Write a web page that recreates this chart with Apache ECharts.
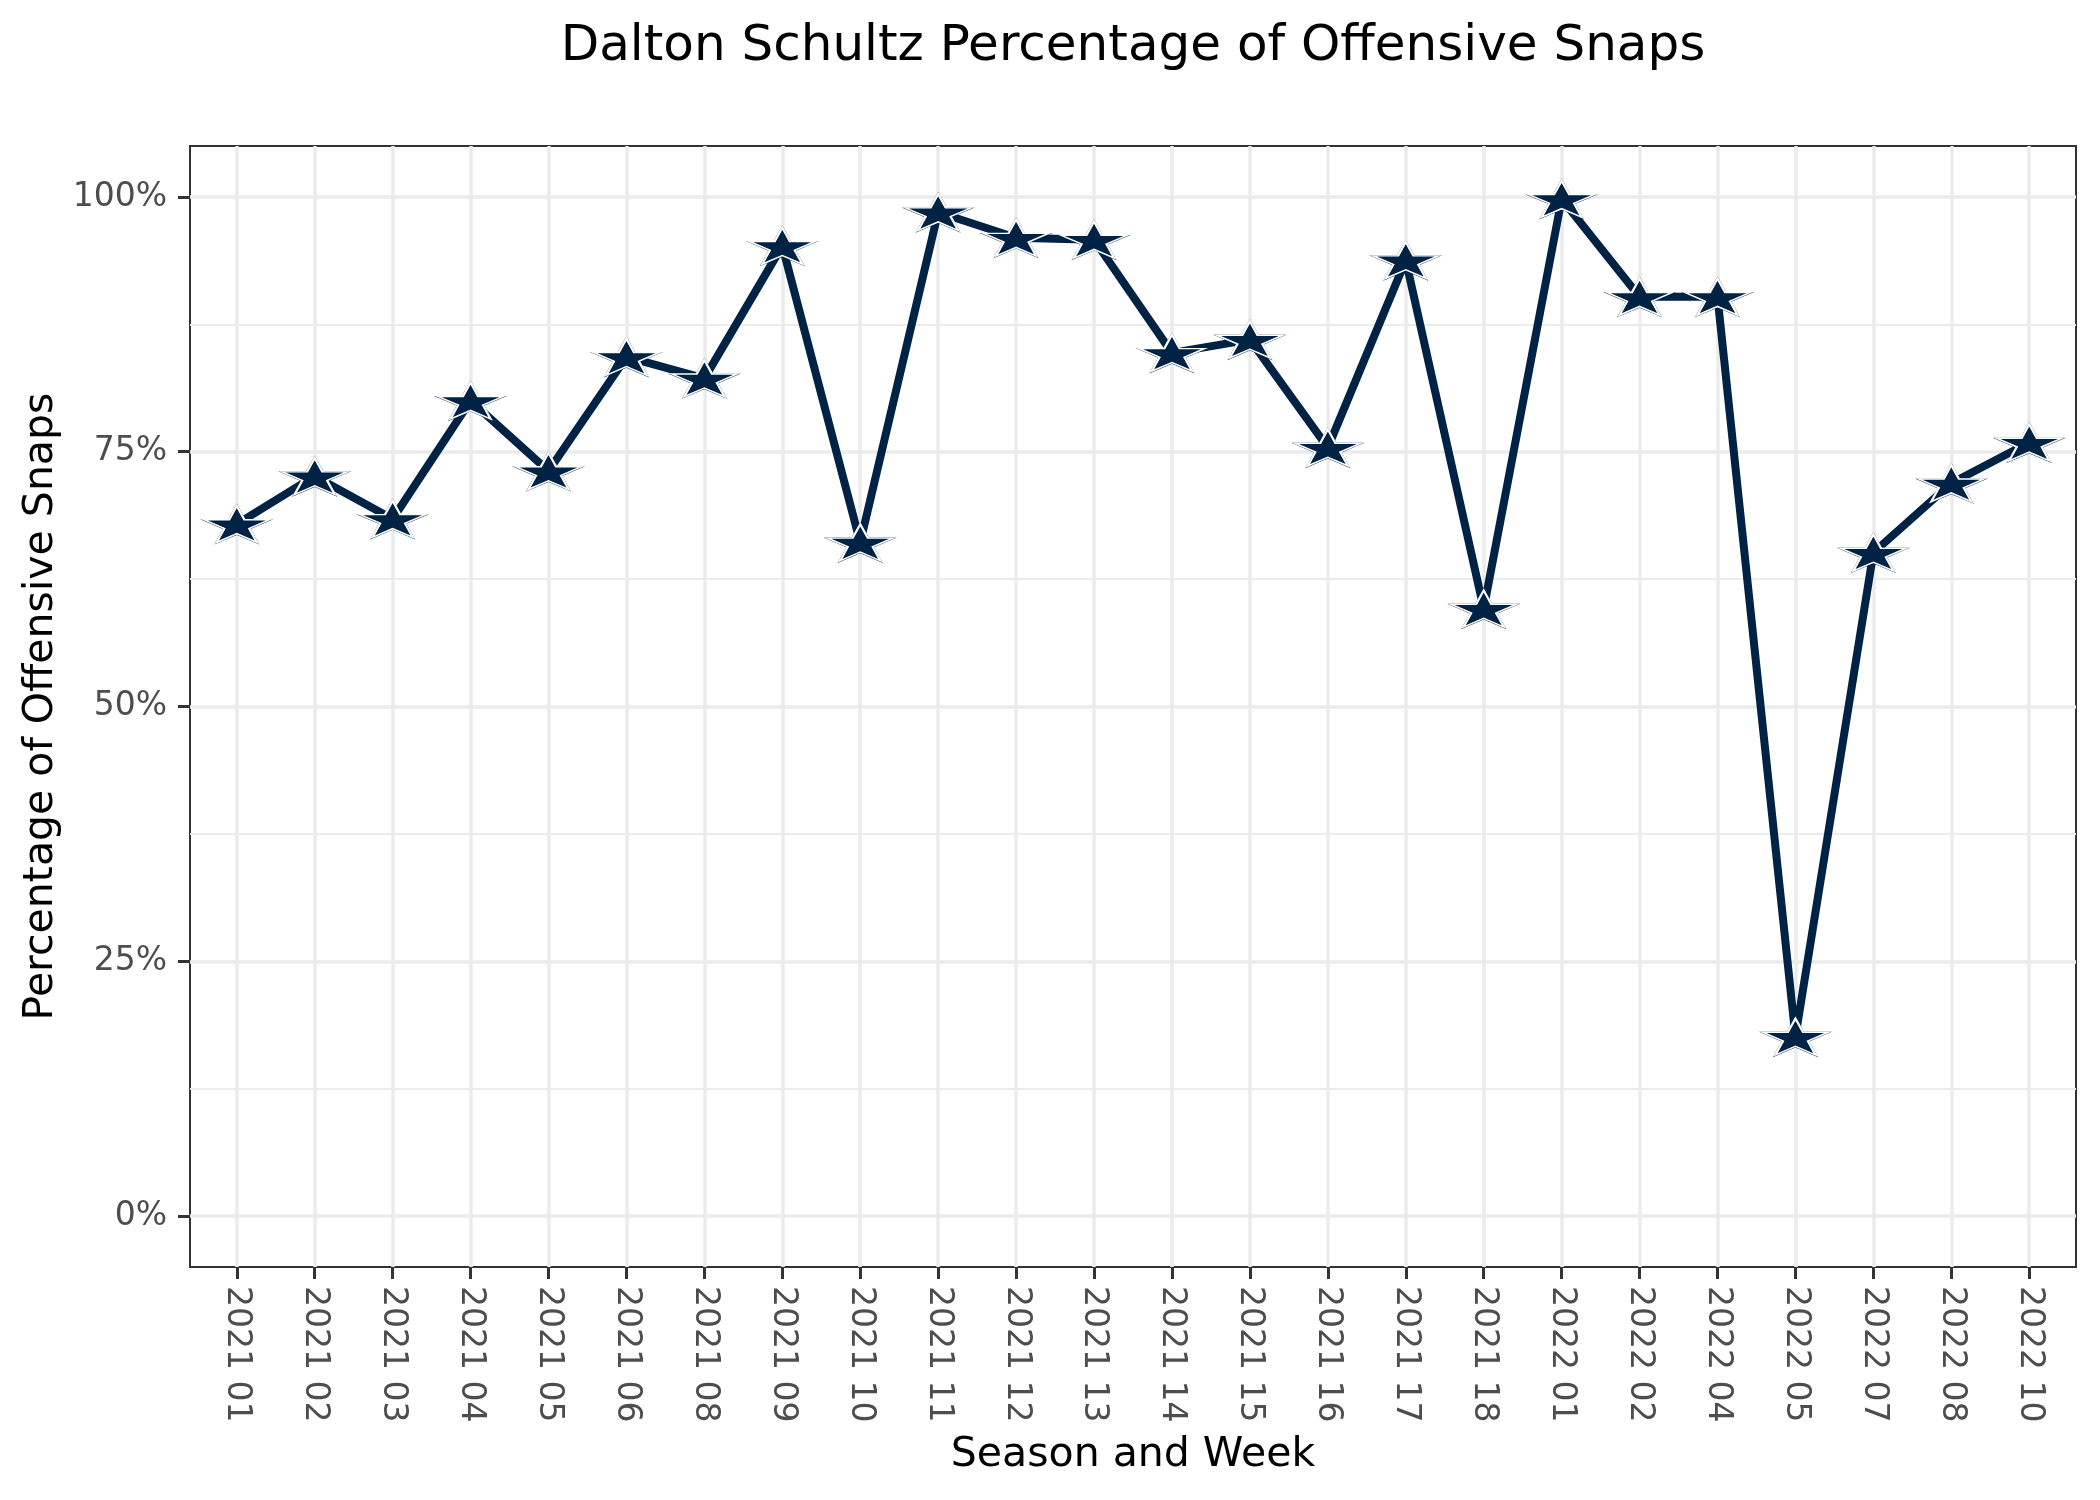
<!DOCTYPE html>
<html>
<head>
<meta charset="utf-8">
<script src="https://cdn.jsdelivr.net/npm/echarts@6/dist/echarts.min.js"></script>
<style>html,body{margin:0;padding:0;background:#fff}#c{width:2100px;height:1500px}</style>
</head>
<body>
<div id="c"></div>
<script>
// ---- data ----
const categories = ['2021 01','2021 02','2021 03','2021 04','2021 05','2021 06','2021 08','2021 09','2021 10','2021 11','2021 12','2021 13','2021 14','2021 15','2021 16','2021 17','2021 18','2022 01','2022 02','2022 04','2022 05','2022 07','2022 08','2022 10'];
const snapPct = [0.679,0.726,0.684,0.800,0.731,0.843,0.822,0.952,0.661,0.985,0.960,0.958,0.847,0.860,0.754,0.938,0.596,0.998,0.902,0.902,0.176,0.651,0.719,0.759];
const yTicks = [0, 0.25, 0.5, 0.75, 1];
const yMinorTicks = [0.125, 0.375, 0.625, 0.875];

// ---- build ----
const xIdx = categories.map((c, i) => i);
const points = snapPct.map((v, i) => [i, v]);

function starPath() {
  const pts = [];
  for (let k = 0; k < 10; k++) {
    const a = -Math.PI / 2 + k * Math.PI / 5;
    const r = k % 2 === 0 ? 1 : 0.382;
    pts.push((r * Math.cos(a)).toFixed(4) + ' ' + (r * Math.sin(a)).toFixed(4));
  }
  return 'path://M' + pts.join(' L') + ' Z';
}
const STAR = starPath();
const NAVY = '#002244';
const FONT = 'DejaVu Sans';

const chart = echarts.init(document.getElementById('c'), null, {renderer: 'canvas'});
chart.setOption({
  animation: false,
  backgroundColor: '#ffffff',
  title: {
    text: 'Dalton Schultz Percentage of Offensive Snaps',
    left: 1133, top: 22, padding: 0,
    textAlign: 'center',
    textStyle: {fontFamily: FONT, fontSize: 50, fontWeight: 'normal', color: '#000000'}
  },
  grid: {
    left: 190, right: 24, top: 146, bottom: 233,
    show: true, borderColor: '#333333', borderWidth: 2, backgroundColor: '#ffffff',
    containLabel: false
  },
  xAxis: {
    type: 'value', min: -0.6, max: 23.6,
    name: 'Season and Week', nameLocation: 'middle', nameGap: 168,
    nameTextStyle: {fontFamily: FONT, fontSize: 41, color: '#000000'},
    axisLine: {show: false, onZero: false},
    axisTick: {show: true, customValues: xIdx, length: 12, lineStyle: {color: '#333333', width: 3}},
    axisLabel: {customValues: xIdx, rotate: -90, margin: 19, fontFamily: FONT, fontSize: 33, color: '#4D4D4D',
      formatter: v => categories[Math.round(v)]},
    splitLine: {show: true, lineStyle: {color: '#EBEBEB', width: 3.5}}
  },
  yAxis: [{
    type: 'value', min: -0.05, max: 1.05,
    name: 'Percentage of Offensive Snaps', nameLocation: 'middle', nameGap: 126, nameRotate: 90,
    nameTextStyle: {fontFamily: FONT, fontSize: 41, color: '#000000'},
    axisLine: {show: false, onZero: false},
    axisTick: {show: true, customValues: yTicks, length: 12, lineStyle: {color: '#333333', width: 3}},
    axisLabel: {customValues: yTicks, margin: 23, fontFamily: FONT, fontSize: 33, color: '#4D4D4D',
      formatter: v => Math.round(v * 100) + '%'},
    splitLine: {show: true, lineStyle: {color: '#EBEBEB', width: 3.5}}
  }, {
    type: 'value', min: -0.05, max: 1.05, position: 'left',
    axisLine: {show: false, onZero: false},
    axisTick: {show: false, customValues: yMinorTicks},
    axisLabel: {show: false, customValues: yMinorTicks},
    splitLine: {show: true, lineStyle: {color: '#EBEBEB', width: 1.8}}
  }],
  series: [{
    type: 'line', data: points, yAxisIndex: 0,
    lineStyle: {color: NAVY, width: 8},
    symbol: STAR, symbolSize: [73, 41], showSymbol: true,
    itemStyle: {color: NAVY}, z: 3
  }, {
    type: 'scatter', data: points, yAxisIndex: 0,
    symbol: STAR, symbolSize: [65, 36.5],
    itemStyle: {color: NAVY, borderColor: '#ffffff', borderWidth: 1.8, opacity: 1}, z: 4
  }]
});
</script>
</body>
</html>
